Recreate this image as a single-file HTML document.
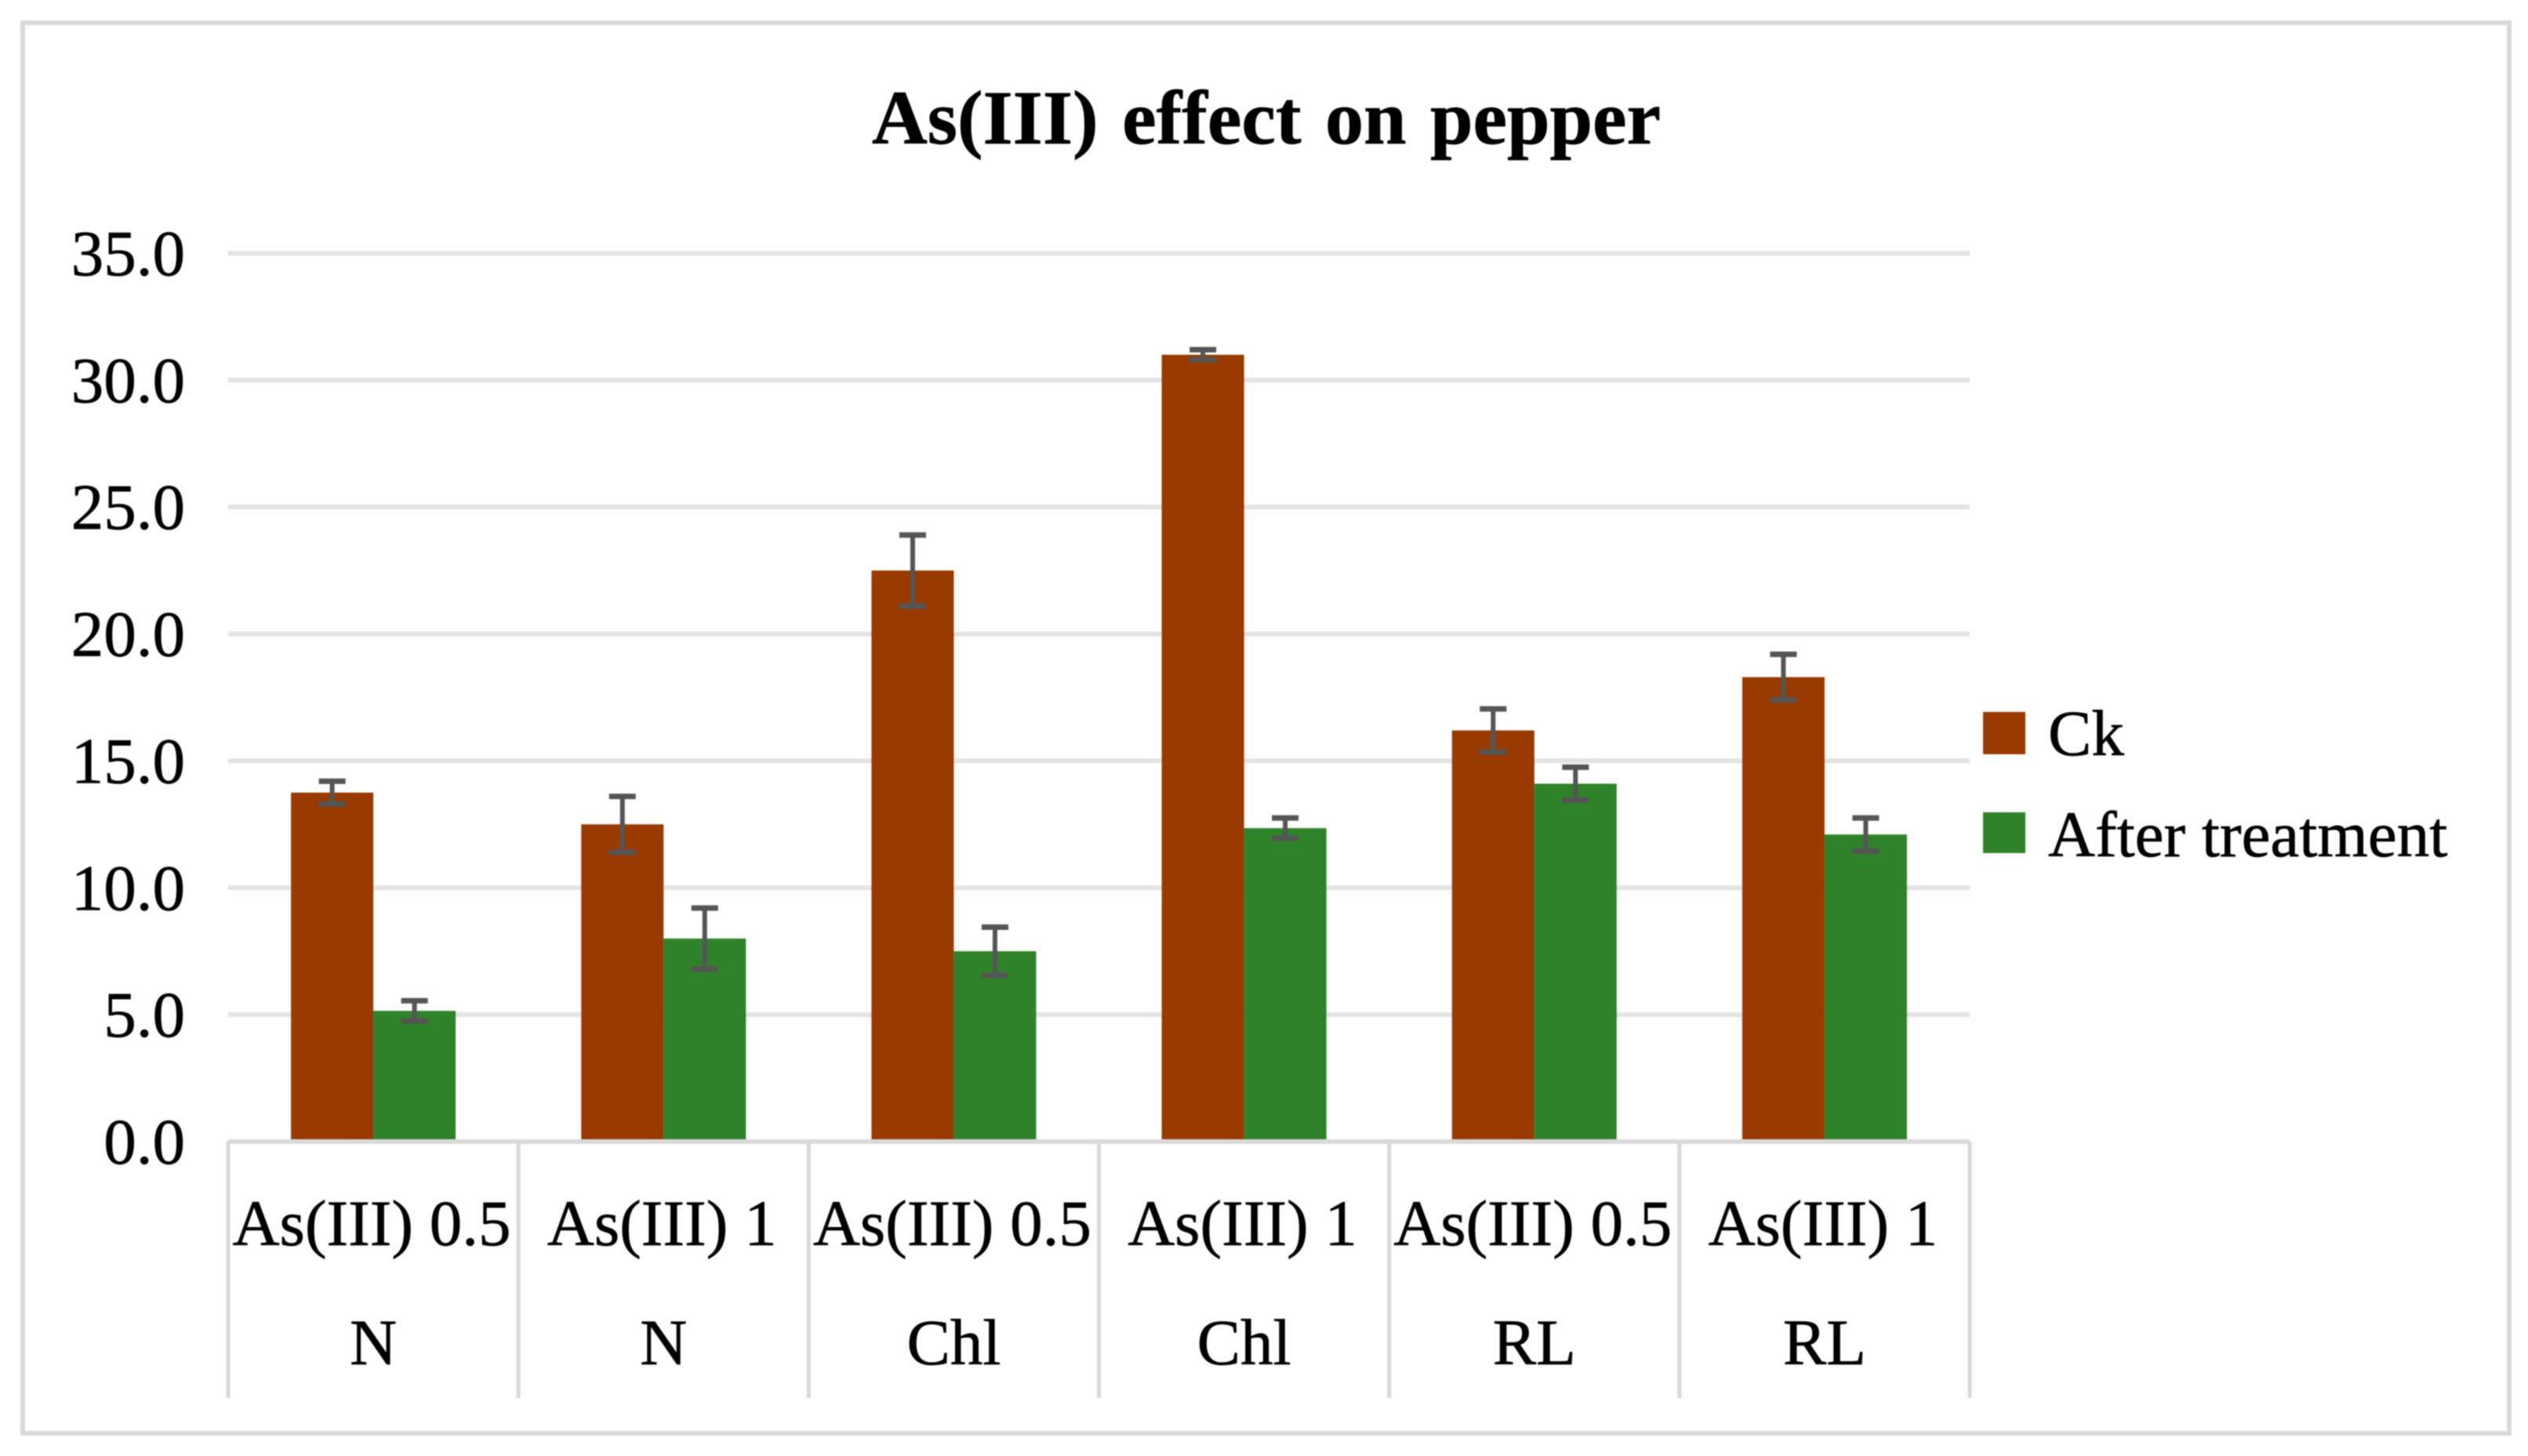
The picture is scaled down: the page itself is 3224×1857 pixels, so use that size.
<!DOCTYPE html>
<html lang="en">
<head>
<meta charset="utf-8">
<title>As(III) effect on pepper</title>
<style>
html,body{margin:0;padding:0;background:#fff;}
body{width:3224px;height:1857px;overflow:hidden;}
svg{display:block;filter:blur(0.9px);}
text{font-family:"Liberation Serif",serif;fill:#000;stroke:#000;stroke-width:0.7px;}
</style>
</head>
<body>
<svg id="chart" width="3224" height="1857" viewBox="0 0 3224 1857" xmlns="http://www.w3.org/2000/svg">
  <rect x="0" y="0" width="3224" height="1857" fill="#ffffff"/>
  <rect x="29" y="29" width="3171" height="1799" fill="#fefefe" stroke="#d9d9d9" stroke-width="6"/>
  <text x="1615" y="183" text-anchor="middle" font-size="98" font-weight="bold" word-spacing="6">As(III) effect on pepper</text>
  <g id="grid"></g>
  <g id="yticks"></g>
  <g id="bars"></g>
  <g id="errors"></g>
  <g id="xaxis"></g>
  <g>
    <rect x="2529" y="908" width="54" height="54" fill="#993a00"/>
    <text x="2612" y="963" font-size="83">Ck</text>
    <rect x="2529" y="1036" width="54" height="52" fill="#2e8229"/>
    <text x="2612" y="1092" font-size="83">After treatment</text>
  </g>
</svg>
<script>
const doseLabels = ["As(III) 0.5", "As(III) 1", "As(III) 0.5", "As(III) 1", "As(III) 0.5", "As(III) 1"];
const groupLabels = ["N", "N", "Chl", "Chl", "RL", "RL"];
const ckValues = [13.75, 12.5, 22.5, 31.0, 16.2, 18.3];
const afterValues = [5.15, 8.0, 7.5, 12.35, 14.1, 12.1];
const ckErrors = [0.45, 1.1, 1.4, 0.2, 0.85, 0.9];
const afterErrors = [0.4, 1.2, 0.95, 0.4, 0.65, 0.65];
const yTicks = [0, 5, 10, 15, 20, 25, 30, 35];

const NS = "http://www.w3.org/2000/svg";
const plotLeft = 291, plotRight = 2512, plotBottom = 1456, plotTop = 323, yMax = 35;
const bandWidth = (plotRight - plotLeft) / doseLabels.length;
const barWidth = 105;

function yScale(v) { return plotBottom - (v / yMax) * (plotBottom - plotTop); }
function xBand(i) { return plotLeft + bandWidth * i; }
function make(tag, attrs, parent) {
  const el = document.createElementNS(NS, tag);
  for (const k in attrs) el.setAttribute(k, attrs[k]);
  document.getElementById(parent).appendChild(el);
  return el;
}

yTicks.forEach(function (t) {
  if (t > 0) {
    const line = make("line", {x1: plotLeft, x2: plotRight, y1: yScale(t), y2: yScale(t), stroke: "#e3e3e3", "stroke-width": 6}, "grid");
    
    
  }
  const label = make("text", {x: 236, y: yScale(t) + 28, "text-anchor": "end", "font-size": 83}, "yticks");
  label.textContent = t.toFixed(1);
  
  
});

function drawSeries(values, errors, offset, color, barName, errName) {
  values.forEach(function (v, i) {
    const x = xBand(i) + bandWidth / 2 + offset;
    const top = yScale(v);
    const bar = make("rect", {x: x, y: top, width: barWidth, height: plotBottom - top, fill: color}, "bars");
    
    
    const cx = x + barWidth / 2;
    const hi = yScale(v + errors[i]);
    const lo = yScale(v - errors[i]);
    const stem = make("line", {x1: cx, x2: cx, y1: hi, y2: lo, stroke: "#555555", "stroke-width": 6}, "errors");
    
    
    const capTop = make("line", {x1: cx - 17, x2: cx + 17, y1: hi, y2: hi, stroke: "#555555", "stroke-width": 7}, "errors");
    
    
    const capBottom = make("line", {x1: cx - 17, x2: cx + 17, y1: lo, y2: lo, stroke: "#555555", "stroke-width": 7}, "errors");
    
    
  });
}
drawSeries(ckValues, ckErrors, -barWidth, "#993a00", "bar-ck", "error-bar-ck");
drawSeries(afterValues, afterErrors, 0, "#2e8229", "bar-after-treatment", "error-bar-after-treatment");

const axisLine = make("line", {x1: plotLeft, x2: plotRight, y1: plotBottom, y2: plotBottom, stroke: "#d9d9d9", "stroke-width": 6}, "xaxis");



for (let i = 0; i <= doseLabels.length; i++) {
  const tick = make("line", {x1: xBand(i), x2: xBand(i), y1: plotBottom, y2: 1783, stroke: "#d9d9d9", "stroke-width": 5}, "xaxis");
  
  
}

doseLabels.forEach(function (d, i) {
  const cx = xBand(i) + bandWidth / 2;
  const top = make("text", {x: cx - 2, y: 1588, "text-anchor": "middle", "font-size": 83}, "xaxis");
  top.textContent = d;
  
  
  const bottom = make("text", {x: cx, y: 1740, "text-anchor": "middle", "font-size": 83}, "xaxis");
  bottom.textContent = groupLabels[i];
  
  
});
</script>
</body>
</html>
